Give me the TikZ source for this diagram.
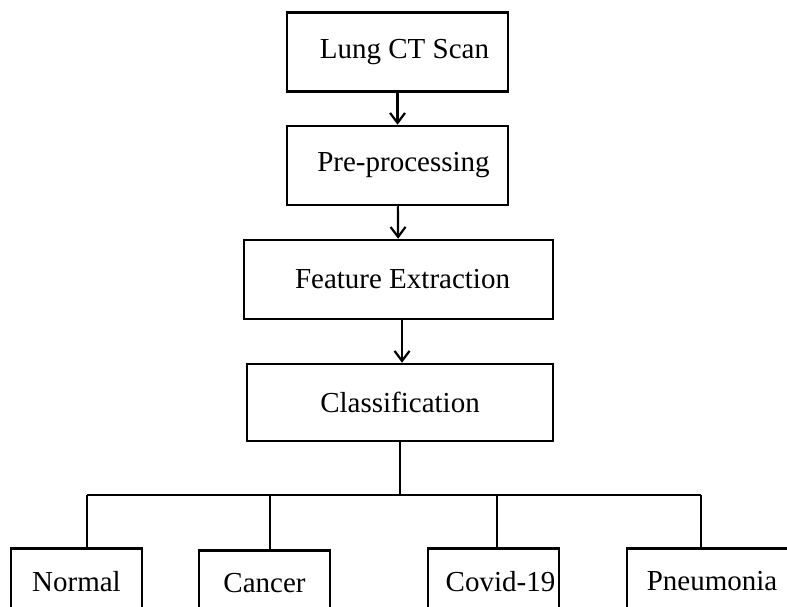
\documentclass[tikz,border=0pt]{standalone}
\usepackage{fontspec}
\setmainfont{Liberation Serif}
\usetikzlibrary{arrows.meta, positioning}
\tikzset{
  every picture/.style={line width=2.5pt},
  box/.style={draw=black, fill=white, align=center, inner sep=0pt,
    minimum height=79pt, font=\fontsize{29}{33}\selectfont},
  leaf/.style={box, anchor=north, minimum width=131pt, minimum height=66pt},
  arrow/.style={-{Straight Barb[length=10pt, width=15pt, line width=2.2pt]}, line width=2.2pt},
}

\begin{document}
\begin{tikzpicture}[x=1pt, y=-1pt]
  \useasboundingbox (0,0) rectangle (787,607);
  \clip (0,0) rectangle (787,607);
  % the pipeline
  \node[box, minimum width=221pt] (scan) at (397.5,52) {\hspace*{14pt}Lung CT Scan};
  \node[box, minimum width=221pt] (prep) at (397.5,165.5) {\hspace*{12pt}Pre-processing};
  \node[box, minimum width=309pt] (feat) at (398.5,279.5) {\hspace*{8pt}Feature Extraction};
  \node[box, minimum width=306pt, minimum height=77pt] (cls) at (400,402.5) {Classification};
  \draw[arrow] (scan) -- (prep);
  \draw[arrow] (prep) -- (feat);
  \draw[arrow] (feat.south -| 402,0) -- (cls.north -| 402,0);
  % the four classes
  \node[leaf] (normal) at (76.5,547) {Normal};
  \node[leaf] (cancer) at (264.5,549) {Cancer};
  \node[leaf] (covid) at (493.5,547) {\hspace*{14pt}Covid-19};
  \node[leaf, minimum width=180pt] (pneu) at (717,547) {\hspace*{-10pt}Pneumonia};
  \foreach \i/\n/\x in {1/normal/87, 2/cancer/270, 3/covid/497, 4/pneu/701} {
    \coordinate (d\i) at (\x,495);
    \draw (d\i) -- (d\i |- \n.north);
  }
  \draw (d1) -- (d4);
  \draw (cls.south) -- (cls.south |- d1);
\end{tikzpicture}
\end{document}
